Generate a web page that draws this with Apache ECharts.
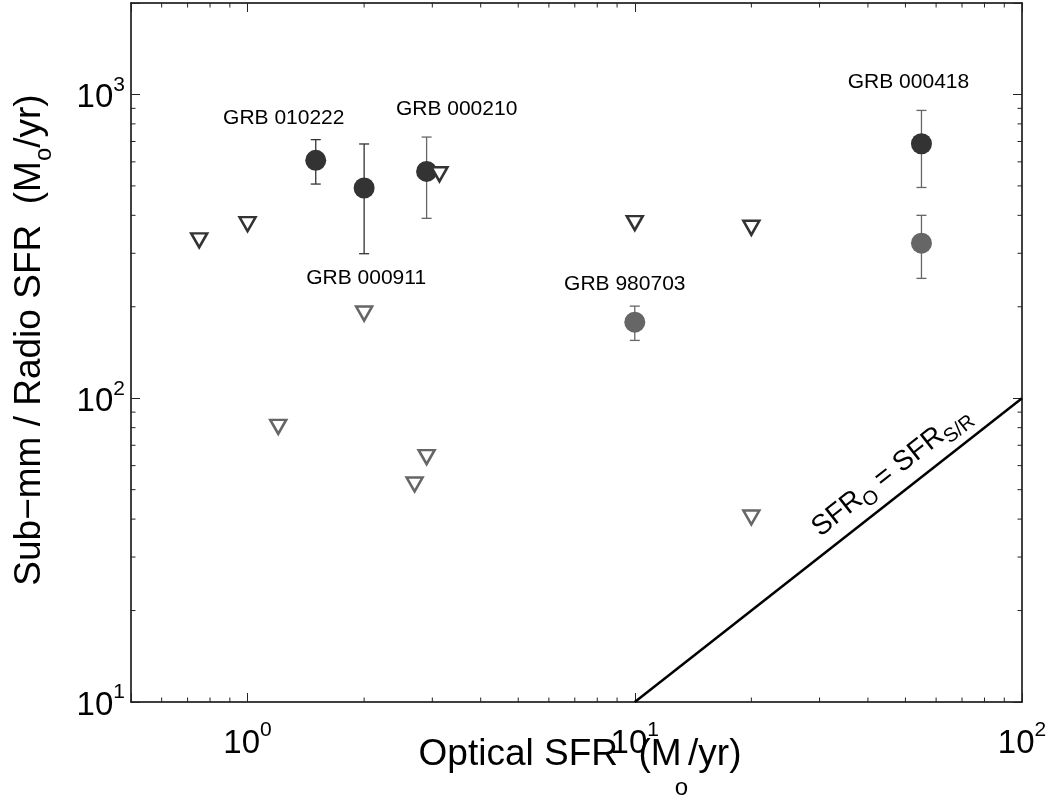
<!DOCTYPE html>
<html>
<head>
<meta charset="utf-8">
<script src="https://cdn.jsdelivr.net/npm/echarts@6/dist/echarts.min.js"></script>
<style>
html, body { margin: 0; padding: 0; background: #fff; }
#chart { width: 1053px; height: 799px; }
</style>
</head>
<body>
<div id="chart"></div>
<script>
// sub-mm detections (dark circles) with error bars
const submmX = [1.5, 2.0, 2.9, 55];
const submmY = [607, 492, 558, 688];
const submmLo = [507, 299, 391, 494];
const submmHi = [710, 687, 724, 886];
const submmNames = ['GRB 010222', 'GRB 000911', 'GRB 000210', 'GRB 000418'];
// radio detections (grey circles)
const radioX = [10, 55];
const radioY = [178, 324];
const radioLo = [155, 248];
const radioHi = [201, 400];
const radioNames = ['GRB 980703', ''];
// upper limits (triangles)
const limDarkX = [0.75, 1.0, 3.13, 10, 20];
const limDarkY = [331, 374, 546, 377, 364];
const limGreyX = [2.0, 1.2, 2.9, 2.7, 20];
const limGreyY = [190, 80.5, 64, 52, 40.5];
// SFR_O = SFR_S/R line
const eqX = [10, 100];
const eqY = [10, 100];
// axes
const xMin = 0.5, xMax = 100, yMin = 10, yMax = 2000;
const xMinor = [0.6, 0.7, 0.8, 0.9, 2, 3, 4, 5, 6, 7, 8, 9, 20, 30, 40, 50, 60, 70, 80, 90];
const yMinor = [20, 30, 40, 50, 60, 70, 80, 90, 200, 300, 400, 500, 600, 700, 800, 900];

const FONT = "'Liberation Sans', Arial, Helvetica, sans-serif";
const eqLabelAt = 50;

// label offsets for the GRB names (pixels from the point)
const nameOffset = {
    'GRB 010222': [-32, -42],
    'GRB 000911': [2, 90],
    'GRB 000210': [30, -62],
    'GRB 000418': [-13, -62],
    'GRB 980703': [-10, -38]
};
const submmBarColor = ['#333', '#333', '#666', '#666'];

let chart = echarts.init(document.getElementById('chart'));

function powLabel(v) {
    let e = Math.round(Math.log10(v));
    if (Math.abs(Math.pow(10, e) - v) > 1e-6 * v) return '';
    return '{b|10}{s|' + e + '}';
}
const tickRich = {
    b: { fontSize: 33, lineHeight: 40, verticalAlign: 'bottom', fontFamily: FONT, color: '#000' },
    s: { fontSize: 21, lineHeight: 7, verticalAlign: 'top', fontFamily: FONT, color: '#000' }
};

function logAxis(min, max, position, label) {
    return {
        type: 'log',
        logBase: 10,
        min: min,
        max: max,
        position: position,
        axisLine: { show: true, onZero: false, lineStyle: { color: '#000', width: 1.5 } },
        axisTick: { show: true, inside: true, length: 9, lineStyle: { color: '#222', width: 1 } },
        minorTick: { show: false },
        splitLine: { show: false },
        axisLabel: label
    };
}

function errorBars(xs, ys, lo, hi, colors) {
    return {
        type: 'custom',
        silent: true,
        z: 2,
        data: xs.map((x, i) => [x, ys[i], lo[i], hi[i]]),
        renderItem: (params, api) => {
            let x = api.value(0);
            let a = api.coord([x, api.value(2)]);
            let b = api.coord([x, api.value(3)]);
            let st = { stroke: colors[params.dataIndex], lineWidth: 1.3 };
            let w = 5;
            return {
                type: 'group',
                children: [
                    { type: 'line', shape: { x1: a[0], y1: a[1], x2: b[0], y2: b[1] }, style: st },
                    { type: 'line', shape: { x1: a[0] - w, y1: a[1], x2: a[0] + w, y2: a[1] }, style: st },
                    { type: 'line', shape: { x1: b[0] - w, y1: b[1], x2: b[0] + w, y2: b[1] }, style: st }
                ]
            };
        }
    };
}

function circles(xs, ys, names, color) {
    return {
        type: 'scatter',
        symbol: 'circle',
        symbolSize: 21,
        z: 3,
        itemStyle: { color: color, opacity: 1 },
        label: {
            show: true,
            position: 'inside',
            formatter: p => p.name,
            color: '#000',
            fontSize: 21,
            fontFamily: FONT
        },
        data: xs.map((x, i) => ({
            name: names[i],
            value: [x, ys[i]],
            label: { offset: nameOffset[names[i]] || [0, 0] }
        }))
    };
}

function limits(xs, ys, color) {
    return {
        type: 'scatter',
        symbol: 'path://M0,0 L16,0 L8,14 Z',
        symbolSize: [16, 14],
        z: 4,
        itemStyle: { color: '#fff', borderColor: color, borderWidth: 2.5, opacity: 1 },
        data: xs.map((x, i) => [x, ys[i]])
    };
}

// text with subscripts, built from pieces measured on a canvas
let measureCtx = document.createElement('canvas').getContext('2d');
function subText(parts, baseSize, subSize, drop) {
    let items = [];
    let w = 0;
    parts.forEach(p => {
        let size = p.sub ? subSize : baseSize;
        measureCtx.font = size + 'px ' + FONT;
        w += p.dx || 0;
        items.push({ t: p.t, size: size, x: w, y: p.sub ? drop : 0 });
        w += measureCtx.measureText(p.t).width;
    });
    return items.map(it => ({
        type: 'text',
        x: it.x - w / 2,
        y: it.y,
        silent: true,
        style: {
            text: it.t,
            fontSize: it.size,
            fontFamily: FONT,
            fill: '#000',
            align: 'left',
            verticalAlign: 'middle'
        }
    }));
}

let option = {
    animation: false,
    backgroundColor: '#fff',
    textStyle: { fontFamily: FONT },
    grid: { left: 131, right: 31, top: 3, bottom: 97 },
    xAxis: [
        logAxis(xMin, xMax, 'bottom', { margin: 18, formatter: powLabel, rich: tickRich }),
        logAxis(xMin, xMax, 'top', { show: false })
    ],
    yAxis: [
        logAxis(yMin, yMax, 'left', { margin: 6, formatter: powLabel, rich: tickRich }),
        logAxis(yMin, yMax, 'right', { show: false })
    ],
    series: [
        {
            type: 'custom',
            silent: true,
            z: 1,
            data: xMinor.map(v => [v, yMin]),
            renderItem: (params, api) => {
                let v = api.value(0);
                let b = api.coord([v, yMin]);
                let t = api.coord([v, yMax]);
                let st = { stroke: '#222', lineWidth: 1 };
                return {
                    type: 'group',
                    children: [
                        { type: 'line', shape: { x1: b[0], y1: b[1], x2: b[0], y2: b[1] - 4.5 }, style: st },
                        { type: 'line', shape: { x1: t[0], y1: t[1], x2: t[0], y2: t[1] + 4.5 }, style: st }
                    ]
                };
            }
        },
        {
            type: 'custom',
            silent: true,
            z: 1,
            data: yMinor.map(v => [xMin, v]),
            renderItem: (params, api) => {
                let v = api.value(1);
                let l = api.coord([xMin, v]);
                let r = api.coord([xMax, v]);
                let st = { stroke: '#222', lineWidth: 1 };
                return {
                    type: 'group',
                    children: [
                        { type: 'line', shape: { x1: l[0], y1: l[1], x2: l[0] + 4.5, y2: l[1] }, style: st },
                        { type: 'line', shape: { x1: r[0], y1: r[1], x2: r[0] - 4.5, y2: r[1] }, style: st }
                    ]
                };
            }
        },
        {
            type: 'line',
            data: eqX.map((x, i) => [x, eqY[i]]),
            showSymbol: false,
            silent: true,
            clip: true,
            z: 2,
            lineStyle: { color: '#000', width: 2.5 }
        },
        errorBars(submmX, submmY, submmLo, submmHi, submmBarColor),
        errorBars(radioX, radioY, radioLo, radioHi, ['#666', '#666']),
        circles(submmX, submmY, submmNames, '#333'),
        circles(radioX, radioY, radioNames, '#666'),
        limits(limDarkX, limDarkY, '#333'),
        limits(limGreyX, limGreyY, '#666')
    ]
};
chart.setOption(option);

// axis titles and the line label
let p0 = chart.convertToPixel({ gridIndex: 0 }, [eqX[0], eqY[0]]);
let p1 = chart.convertToPixel({ gridIndex: 0 }, [eqX[1], eqY[1]]);
let theta = Math.atan2(p0[1] - p1[1], p1[0] - p0[0]);
let pm = chart.convertToPixel({ gridIndex: 0 }, [eqLabelAt, eqLabelAt]);
let lift = 23;

chart.setOption({
    graphic: [
        {
            type: 'group',
            x: 580,
            y: 755,
            children: subText([
                { t: 'Optical SFR  (M' }, { t: 'o', sub: true, dx: -7 }, { t: '/yr)' }
            ], 37, 24, 33)
        },
        {
            type: 'group',
            x: 29.5,
            y: 340,
            rotation: Math.PI / 2,
            children: subText([
                { t: 'Sub\u2212mm / Radio SFR  (M' }, { t: 'o', sub: true }, { t: '/yr)' }
            ], 37, 24, 15)
        },
        {
            type: 'group',
            x: pm[0] - lift * Math.sin(theta),
            y: pm[1] - lift * Math.cos(theta),
            rotation: theta,
            children: subText([
                { t: 'SFR' }, { t: 'O', sub: true }, { t: ' = SFR' }, { t: 'S/R', sub: true }
            ], 28, 20, 9)
        }
    ]
});
</script>
</body>
</html>
